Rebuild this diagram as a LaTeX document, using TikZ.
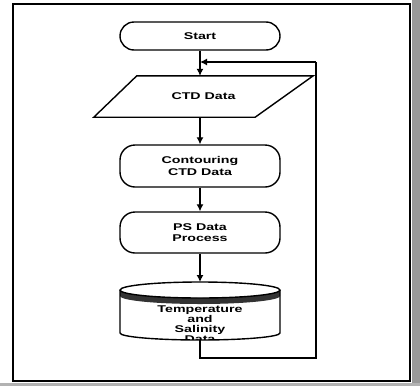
\documentclass[tikz,border=0pt]{standalone}
\usepackage{fontspec}
\newfontfamily\lbl[FakeStretch=1.45]{Liberation Sans}
\usetikzlibrary{arrows.meta,calc}
\begin{document}
\begin{tikzpicture}[x=1pt,y=-1pt,
  txt/.style={font=\lbl\bfseries\fontsize{9.8}{11.5}\selectfont, align=center, inner sep=0pt},
  roundbox/.style={txt, draw, line width=1.4pt, rounded corners=15pt, minimum width=160pt},
  parabox/.style={txt, minimum width=219pt, minimum height=41pt},
  shapeline/.style={line width=1.4pt},
  flow/.style={line width=1.2pt, -{Latex[length=7pt,width=7pt]}},
  line/.style={line width=1.2pt}]
\useasboundingbox (0,0) rectangle (420,386);
\fill[white] (0,0) rectangle (420,386);
% scan edge shading
\fill[black!40] (412,0) rectangle (420,386);
\fill[black!30] (0,383) rectangle (420,386);
% frame
\draw[line width=1.5pt] (13,4) rectangle (410,381);

\node[roundbox, minimum height=28pt, rounded corners=14pt] (start) at (200,36) {Start};
\node[parabox] (ctd) at (203.5,96.5) {CTD Data};
\draw[shapeline, line join=miter] ($(ctd.north west)+(43,0)$) -- (ctd.north east)
   -- ($(ctd.south east)+(-58,0)$) -- (ctd.south west) -- cycle;
\node[roundbox, minimum height=42pt] (cont) at (200,166) {Contouring\\CTD Data};
\node[roundbox, minimum height=41pt] (ps) at (200,232.5) {PS Data\\Process};

% cylinder
\coordinate (cyltop) at (200,282);
\coordinate (cylbot) at (200,340);
\fill[black!80] (120,290) arc[start angle=180,end angle=360,x radius=80pt,y radius=8pt]
   -- (280,296) arc[start angle=0,end angle=-180,x radius=80pt,y radius=8pt] -- cycle;
\node[txt, font=\lbl\bfseries\fontsize{9.8}{10}\selectfont] (cyl) at (200,324) {Temperature\\and\\Salinity\\Data};
\fill[white] (120,333) arc[start angle=180,end angle=360,x radius=80pt,y radius=7pt] -- (280,345) -- (120,345) -- cycle;
\draw[shapeline] (200,290) ellipse[x radius=80pt, y radius=8pt];
\draw[shapeline] (120,290) -- (120,333) arc[start angle=180,end angle=360,x radius=80pt,y radius=7pt] -- (280,290);

% connectors
\coordinate (join) at (200,62);
\coordinate (lb) at (200,358);
\coordinate (rt) at (316,62);
\draw[flow] (start.south) -- (start.south |- ctd.north);
\draw[flow] (start.south |- ctd.south) -- (cont.north);
\draw[flow] (cont.south) -- (ps.north);
\draw[flow] (ps.south) -- (cyltop);
\draw[line] (cylbot) -- (lb) -| (rt);
\draw[flow] (rt) -- (join);
\end{tikzpicture}
\end{document}
